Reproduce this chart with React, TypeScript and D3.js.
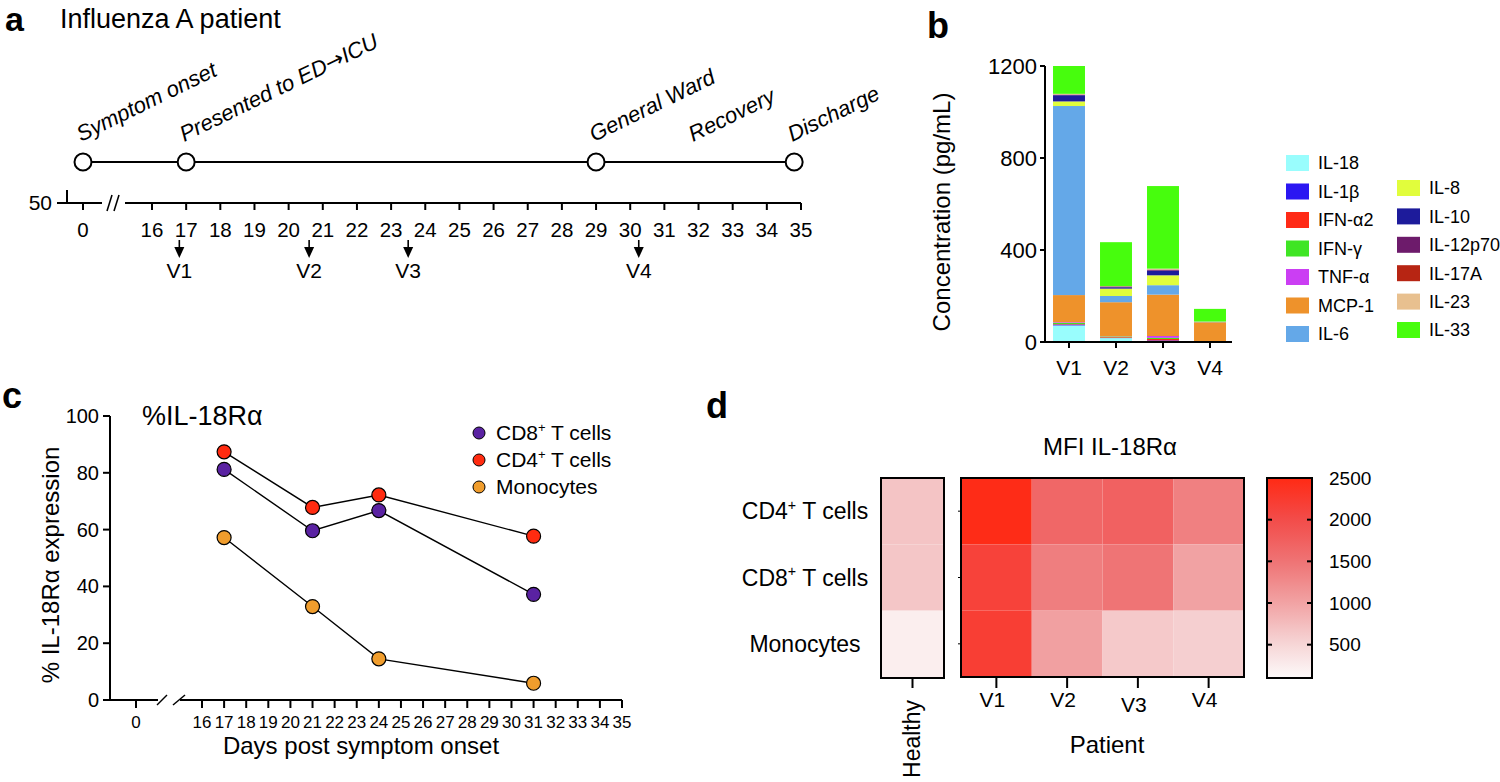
import * as d3 from "d3";

const FONT = "'Liberation Sans', Arial, Helvetica, sans-serif";
const W = 1500;
const H = 782;

// ---- panel a: timeline
const A_TICKS = [16, 17, 18, 19, 20, 21, 22, 23, 24, 25, 26, 27, 28, 29, 30, 31, 32, 33, 34, 35];
const A_EVENTS = [
  { label: "Symptom onset", day: 0, marker: true },
  { label: "Presented to ED\u2192ICU", day: 17, marker: true },
  { label: "General Ward", day: 29, marker: true },
  { label: "Recovery", day: 31.9, marker: false },
  { label: "Discharge", day: 34.8, marker: true },
];
const A_VISITS = ["V1", "V2", "V3", "V4"];
const A_VISIT_DAYS = [16.8, 20.6, 23.5, 30.25];

// ---- panel b: stacked cytokines
const B_VISITS = ["V1", "V2", "V3", "V4"];
const B_TICKS = [0, 400, 800, 1200];
const CYTOKINES = [
  "IL-18", "IL-1\u03b2", "IFN-\u03b12", "IFN-\u03b3", "TNF-\u03b1", "MCP-1", "IL-6",
  "IL-8", "IL-10", "IL-12p70", "IL-17A", "IL-23", "IL-33",
];
const CYTO_COLORS = [
  "#99fdfd", "#2b17f2", "#ff2a16", "#3fe524", "#cb3ef3", "#ee922b", "#64a8e8",
  "#e1fd3c", "#1d1b9b", "#6d1b6b", "#b72513", "#e8c08f", "#47fd0d",
];
const IL18 = [72, 17, 3, 0];
const IL1B = [4, 1, 4, 0];
const IFNA2 = [2, 3, 6, 0];
const IFNG = [5, 3, 5, 0];
const TNFA = [3, 1, 8, 0];
const MCP1 = [118, 148, 180, 86];
const IL6 = [822, 27, 41, 2];
const IL8 = [20, 32, 43, 0];
const IL10 = [27, 6, 20, 0];
const IL12P70 = [2, 3, 4, 0];
const IL17A = [1, 1, 1, 0];
const IL23 = [3, 1, 4, 1];
const IL33 = [121, 191, 359, 55];
const CYTO_VALUES = [IL18, IL1B, IFNA2, IFNG, TNFA, MCP1, IL6, IL8, IL10, IL12P70, IL17A, IL23, IL33];

// ---- panel c: %IL-18Ra
const C_TICKS_X = [0, 16, 17, 18, 19, 20, 21, 22, 23, 24, 25, 26, 27, 28, 29, 30, 31, 32, 33, 34, 35];
const C_TICKS_Y = [0, 20, 40, 60, 80, 100];
const C_DAYS = [17, 21, 24, 31];
const CD8 = [81.2, 59.6, 66.7, 37.2];
const CD4 = [87.4, 67.8, 72.2, 57.7];
const MONO = [57.2, 32.9, 14.5, 5.9];
const C_SERIES = [
  { name: "CD8+ T cells", values: CD8, color: "#5a22a2" },
  { name: "CD4+ T cells", values: CD4, color: "#ff2b10" },
  { name: "Monocytes", values: MONO, color: "#f09d2d" },
];

// ---- panel d: MFI heatmap
const D_ROWS = ["CD4+ T cells", "CD8+ T cells", "Monocytes"];
const D_COLS = ["V1", "V2", "V3", "V4"];
const D_HEALTHY = [680, 660, 230];
const D_CD4 = [2470, 1660, 1730, 1360];
const D_CD8 = [2150, 1390, 1490, 1010];
const D_MONO = [2200, 1030, 630, 570];
const D_PATIENT = [D_CD4, D_CD8, D_MONO];
const D_BAR_TICKS = [500, 1000, 1500, 2000, 2500];

function withSup(name: string, fs: number) {
  const m = name.match(/^(CD\d)\+(.*)$/);
  if (!m) return name;
  return [
    <tspan key="a">{m[1]}</tspan>,
    <tspan key="b" dy={-fs * 0.42} fontSize={fs * 0.62}>+</tspan>,
    <tspan key="c" dy={fs * 0.42}>{m[2]}</tspan>,
  ];
}

// arrow glyph is tiny in Liberation Sans, borrow DejaVu's
function withArrow(label: string) {
  const parts = label.split("\u2192");
  if (parts.length < 2) return label;
  return [
    <tspan key="a">{parts[0]}</tspan>,
    <tspan key="b" fontFamily="'DejaVu Sans'" fontStyle="normal">{"\u2192"}</tspan>,
    <tspan key="c">{parts[1]}</tspan>,
  ];
}

export default function App() {
  // panel a scales
  const xA = d3.scaleLinear().domain([16, 35]).range([152, 801]);
  const xa = (d: number) => (d === 0 ? 83 : xA(d));
  const aLineY = 162;
  const aAxisY = 203;

  // panel b scales
  const xB = d3.scaleBand<string>().domain(B_VISITS).range([1045.5, 1233.5]).paddingInner(0.32).paddingOuter(0.16);
  const yB = d3.scaleLinear().domain([0, 1200]).range([342, 66]);
  const table = B_VISITS.map((v, i) => {
    const row: Record<string, number | string> = { visit: v };
    CYTOKINES.forEach((c, k) => (row[c] = CYTO_VALUES[k][i]));
    return row;
  });
  const stacked = d3.stack<any>().keys(CYTOKINES)(table);

  // panel c scales
  const xC0 = d3.scaleLinear().domain([16, 35]).range([202, 622]);
  const xc = (d: number) => (d === 0 ? 136 : xC0(d));
  const yC = d3.scaleLinear().domain([0, 100]).range([700, 416]);
  const line = d3.line<number>().x((_, i) => xc(C_DAYS[i])).y((v) => yC(v));

  // panel d scales
  const xD = d3.scaleBand<string>().domain(D_COLS).range([961, 1244]);
  const xH = d3.scaleBand<string>().domain(["Healthy"]).range([881, 944]);
  const yD = d3.scaleBand<string>().domain(D_ROWS).range([478, 677]);
  const color = d3
    .scaleLinear<string>()
    .domain([100, 500, 1000, 1500, 2000, 2500])
    .range(["#fdf9f9", "#f6d6d7", "#f1a3a4", "#ef7374", "#f34c4a", "#ff2a14"]);
  const yBar = d3.scaleLinear().domain([100, 2500]).range([678, 478]);

  return (
    <svg
      width={W}
      height={H}
      viewBox={`0 0 ${W} ${H}`}
      style={{ position: "absolute", left: 0, top: 0, background: "#fff", fontFamily: FONT }}
    >
      {/* ================= a ================= */}
      <text x={5} y={31} fontSize={34} fontWeight="bold">a</text>
      <text x={60} y={28} fontSize={27}>Influenza A patient</text>

      <line x1={xa(0)} x2={xa(34.8)} y1={aLineY} y2={aLineY} stroke="#000" strokeWidth={2} />
      {A_EVENTS.filter((e) => e.marker).map((e) => (
        <circle key={e.label} cx={xa(e.day)} cy={aLineY} r={8.5} fill="#fff" stroke="#000" strokeWidth={2} />
      ))}
      {A_EVENTS.map((e) => (
        <text
          key={e.label}
          transform={`translate(${xa(e.day) - 2},142) rotate(-26)`}
          fontSize={22}
          fontStyle="italic"
        >
          {withArrow(e.label)}
        </text>
      ))}

      <g stroke="#000" strokeWidth={2} fill="none">
        <line x1={57} x2={102} y1={aAxisY} y2={aAxisY} />
        <line x1={67} x2={67} y1={190} y2={aAxisY} />
        <line x1={xa(0)} x2={xa(0)} y1={aAxisY} y2={aAxisY + 7} />
        <line x1={107} x2={112} y1={211} y2={195} strokeWidth={1.6} />
        <line x1={114} x2={119} y1={211} y2={195} strokeWidth={1.6} />
        <line x1={125} x2={xA(35)} y1={aAxisY} y2={aAxisY} />
        {A_TICKS.map((t) => (
          <line key={t} x1={xA(t)} x2={xA(t)} y1={aAxisY} y2={aAxisY + 7} />
        ))}
      </g>
      <text x={52} y={aAxisY} dy="0.35em" fontSize={21} textAnchor="end">50</text>
      <g fontSize={20.5} textAnchor="middle">
        <text x={xa(0)} y={237}>0</text>
        {A_TICKS.map((t) => (
          <text key={t} x={xA(t)} y={237}>{t}</text>
        ))}
      </g>
      {A_VISITS.map((v, i) => {
        const x = xA(A_VISIT_DAYS[i]);
        return (
          <g key={v}>
            <line x1={x} x2={x} y1={240} y2={249} stroke="#000" strokeWidth={1.6} />
            <path d={`M${x - 5},247L${x + 5},247L${x},258Z`} fill="#000" />
            <text x={x} y={278} fontSize={21} textAnchor="middle">{v}</text>
          </g>
        );
      })}

      {/* ================= b ================= */}
      <text x={927} y={38} fontSize={36} fontWeight="bold">b</text>
      {stacked.map((s, k) => (
        <g key={s.key} fill={CYTO_COLORS[k]}>
          {s.map((d, i) =>
            d[1] - d[0] > 0 ? (
              <rect
                key={i}
                x={xB(B_VISITS[i])}
                width={xB.bandwidth()}
                y={yB(d[1])}
                height={yB(d[0]) - yB(d[1])}
              />
            ) : null
          )}
        </g>
      ))}
      <g stroke="#000" strokeWidth={2}>
        <line x1={1045} x2={1045} y1={yB(1200)} y2={yB(0) + 1} />
        <line x1={1044} x2={1232} y1={yB(0)} y2={yB(0)} />
        {B_TICKS.map((t) => (
          <line key={t} x1={1040} x2={1045} y1={yB(t)} y2={yB(t)} />
        ))}
        {B_VISITS.map((v) => (
          <line key={v} x1={xB(v)! + xB.bandwidth() / 2} x2={xB(v)! + xB.bandwidth() / 2} y1={yB(0)} y2={yB(0) + 6} />
        ))}
      </g>
      <g fontSize={22} textAnchor="end">
        {B_TICKS.map((t) => (
          <text key={t} x={1037} y={yB(t)} dy="0.35em">{t}</text>
        ))}
      </g>
      <g fontSize={21} textAnchor="middle">
        {B_VISITS.map((v) => (
          <text key={v} x={xB(v)! + xB.bandwidth() / 2} y={375}>{v}</text>
        ))}
      </g>
      <text transform="translate(950,212) rotate(-90)" fontSize={24} textAnchor="middle">
        Concentration (pg/mL)
      </text>
      <g fontSize={18}>
        {CYTOKINES.map((c, k) => {
          const col = k < 7 ? 0 : 1;
          const row = col === 0 ? k : k - 7;
          const cy = col === 0 ? 163 + row * 28.5 : 188 + row * 28.4;
          const sx = col === 0 ? 1286 : 1397;
          return (
            <g key={c}>
              <rect x={sx} y={cy - 8} width={23} height={16} fill={CYTO_COLORS[k]} />
              <text x={sx + 32} y={cy} dy="0.35em">{c}</text>
            </g>
          );
        })}
      </g>

      {/* ================= c ================= */}
      <text x={2} y={408} fontSize={36} fontWeight="bold">c</text>
      <text x={142} y={425} fontSize={27}>%IL-18R{"\u03b1"}</text>
      <g stroke="#000" strokeWidth={2} fill="none">
        <line x1={110} x2={110} y1={yC(100)} y2={yC(0) + 1} />
        {C_TICKS_Y.map((t) => (
          <line key={t} x1={103} x2={110} y1={yC(t)} y2={yC(t)} />
        ))}
        <line x1={109} x2={158} y1={yC(0)} y2={yC(0)} />
        <line x1={157} x2={167} y1={705} y2={695} strokeWidth={1.5} />
        <line x1={173} x2={185} y1={705} y2={695} strokeWidth={1.5} />
        <line x1={180} x2={xc(35)} y1={yC(0)} y2={yC(0)} />
        {C_TICKS_X.map((t) => (
          <line key={t} x1={xc(t)} x2={xc(t)} y1={yC(0)} y2={yC(0) + 8} />
        ))}
      </g>
      <g fontSize={20} textAnchor="end">
        {C_TICKS_Y.map((t) => (
          <text key={t} x={99} y={yC(t)} dy="0.35em">{t}</text>
        ))}
      </g>
      <g fontSize={17} textAnchor="middle">
        {C_TICKS_X.map((t) => (
          <text key={t} x={xc(t)} y={728}>{t}</text>
        ))}
      </g>
      <text x={361} y={754} fontSize={24} textAnchor="middle">Days post symptom onset</text>
      <text transform="translate(59,565) rotate(-90)" fontSize={24} textAnchor="middle">
        % IL-18R{"\u03b1"} expression
      </text>
      {C_SERIES.map((s) => (
        <path key={s.name + "l"} d={line(s.values)!} fill="none" stroke="#000" strokeWidth={1.4} />
      ))}
      {C_SERIES.map((s) => (
        <g key={s.name}>
          {s.values.map((v, i) => (
            <circle key={i} cx={xc(C_DAYS[i])} cy={yC(v)} r={7} fill={s.color} stroke="#000" strokeWidth={1.2} />
          ))}
        </g>
      ))}
      {C_SERIES.map((s, i) => (
        <g key={s.name + "leg"}>
          <circle cx={479} cy={433 + i * 27} r={6} fill={s.color} stroke="#000" strokeWidth={1} />
          <text x={496} y={433 + i * 27} dy="0.35em" fontSize={21}>
            {withSup(s.name, 21)}
          </text>
        </g>
      ))}

      {/* ================= d ================= */}
      <text x={706} y={418} fontSize={36} fontWeight="bold">d</text>
      <text x={1110} y={455} fontSize={24} textAnchor="middle">MFI IL-18R{"\u03b1"}</text>
      {D_ROWS.map((r, i) => (
        <g key={r}>
          <rect x={xH("Healthy")} y={yD(r)} width={xH.bandwidth()} height={yD.bandwidth()} fill={color(D_HEALTHY[i])} />
          {D_COLS.map((c, j) => (
            <rect key={c} x={xD(c)} y={yD(r)} width={xD.bandwidth()} height={yD.bandwidth()} fill={color(D_PATIENT[i][j])} />
          ))}
          <text x={805} y={yD(r)! + yD.bandwidth() / 2} dy="0.35em" fontSize={23} textAnchor="middle">
            {withSup(r, 23)}
          </text>
          <line x1={958} x2={961} y1={yD(r)! + yD.bandwidth() / 2} y2={yD(r)! + yD.bandwidth() / 2} stroke="#000" />
        </g>
      ))}
      <g fill="none" stroke="#000" strokeWidth={2}>
        <rect x={881} y={478} width={944 - 881} height={678 - 478} />
        <rect x={961} y={478} width={1244 - 961} height={677 - 478} />
        <line x1={xH("Healthy")! + xH.bandwidth() / 2} x2={xH("Healthy")! + xH.bandwidth() / 2} y1={678} y2={688} />
        {D_COLS.map((c) => (
          <line key={c} x1={xD(c)! + xD.bandwidth() / 2} x2={xD(c)! + xD.bandwidth() / 2} y1={677} y2={688} />
        ))}
      </g>
      <g fontSize={21} textAnchor="middle">
        {D_COLS.map((c) => (
          <text key={c} x={xD(c)! + xD.bandwidth() / 2 - 4} y={c === "V3" ? 712 : 707}>{c}</text>
        ))}
      </g>
      <text transform="translate(920,700) rotate(-90)" fontSize={23} textAnchor="end">Healthy</text>
      <text x={1107} y={753} fontSize={24} textAnchor="middle">Patient</text>

      <defs>
        <linearGradient id="mfi" x1="0" y1="1" x2="0" y2="0">
          {d3.range(0, 1.0001, 0.05).map((o) => (
            <stop key={o} offset={o} stopColor={color(100 + o * 2400)} />
          ))}
        </linearGradient>
      </defs>
      <rect x={1267} y={478} width={45} height={200} fill="url(#mfi)" stroke="#000" strokeWidth={2} />
      <g stroke="#000" strokeWidth={2}>
        {D_BAR_TICKS.slice(0, 4).map((t) => (
          <g key={t}>
            <line x1={1267} x2={1272} y1={yBar(t)} y2={yBar(t)} />
            <line x1={1307} x2={1312} y1={yBar(t)} y2={yBar(t)} />
          </g>
        ))}
      </g>
      <g fontSize={19}>
        {D_BAR_TICKS.map((t) => (
          <text key={t} x={1329} y={yBar(t)} dy="0.35em">{t}</text>
        ))}
      </g>
    </svg>
  );
}
